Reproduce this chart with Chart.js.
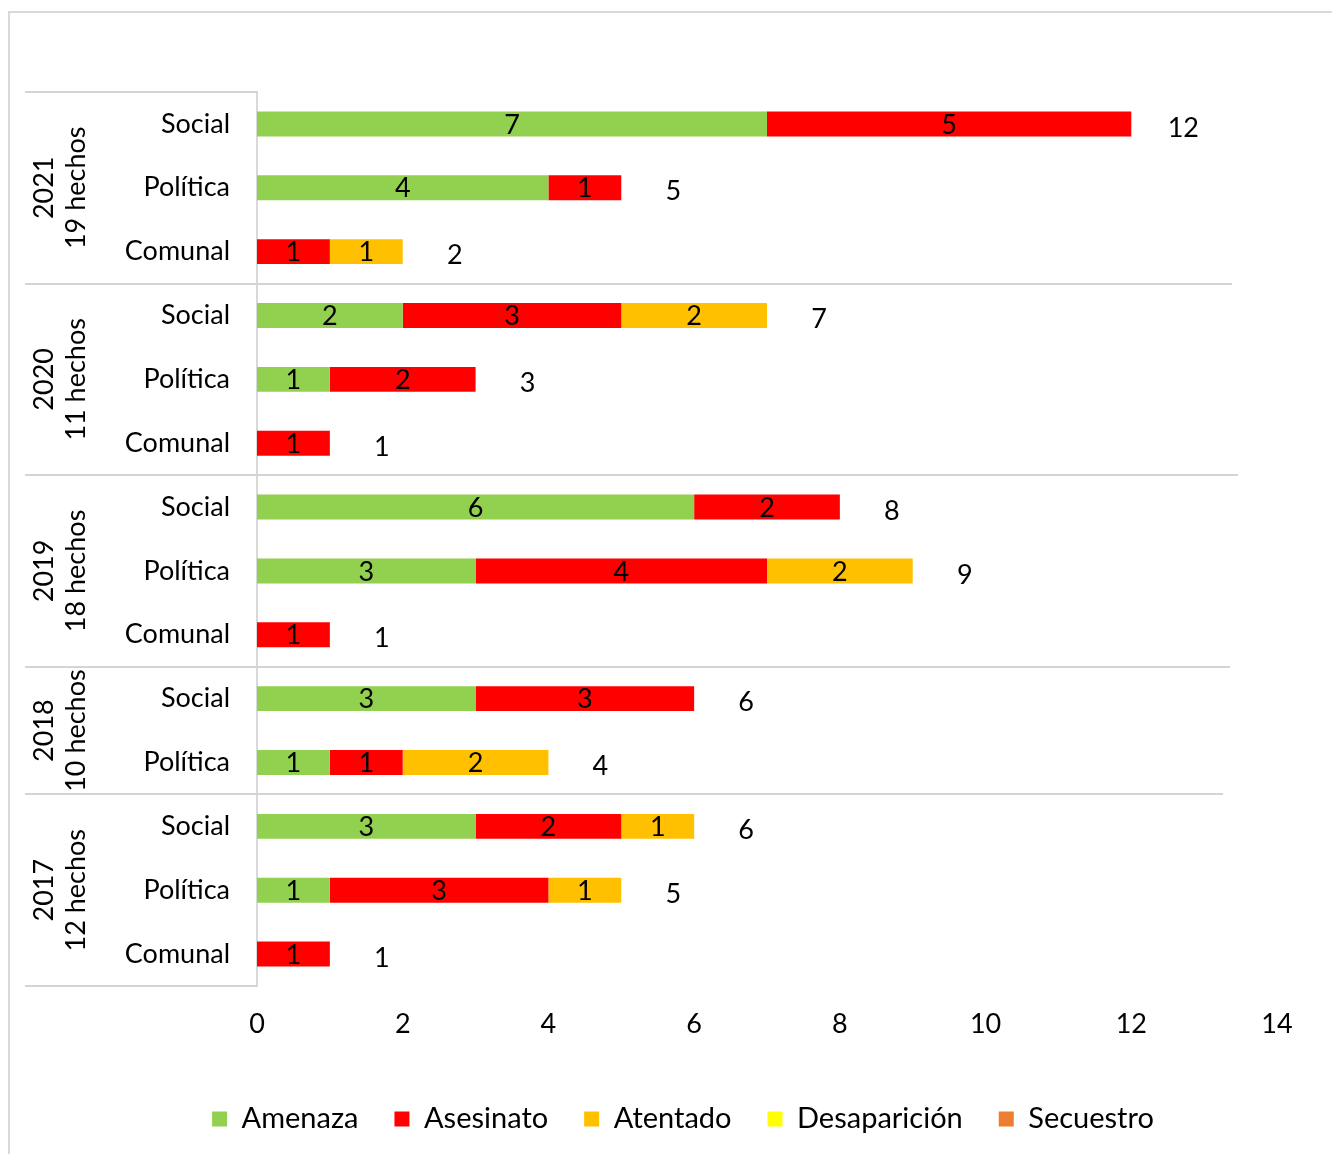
<!DOCTYPE html>
<html>
<head>
<meta charset="utf-8">
<title>Hechos por año y tipo de liderazgo</title>
<script src="https://cdn.jsdelivr.net/npm/chart.js@4/dist/chart.umd.min.js"></script>
<style>
  html, body { margin: 0; padding: 0; background: #fff; }
  canvas { display: block; }
</style>
</head>
<body>
<canvas id="chart" width="1332" height="1154"></canvas>
<script>
// Rows, top to bottom: year group + type of leadership
const rowYears = ['2021', '2021', '2021', '2020', '2020', '2020', '2019', '2019', '2019', '2018', '2018', '2017', '2017', '2017'];
const categories = ['Social', 'Política', 'Comunal', 'Social', 'Política', 'Comunal', 'Social', 'Política', 'Comunal', 'Social', 'Política', 'Social', 'Política', 'Comunal'];

// Number of events per type of aggression
const amenaza      = [7, 4, 0, 2, 1, 0, 6, 3, 0, 3, 1, 3, 1, 0];
const asesinato    = [5, 1, 1, 3, 2, 1, 2, 4, 1, 3, 1, 2, 3, 1];
const atentado     = [0, 0, 1, 2, 0, 0, 0, 2, 0, 0, 2, 1, 1, 0];
const desaparicion = [0, 0, 0, 0, 0, 0, 0, 0, 0, 0, 0, 0, 0, 0];
const secuestro    = [0, 0, 0, 0, 0, 0, 0, 0, 0, 0, 0, 0, 0, 0];

const seriesNames = ['Amenaza', 'Asesinato', 'Atentado', 'Desaparición', 'Secuestro'];
const xTickValues = [0, 2, 4, 6, 8, 10, 12, 14];

const FONT = 'Lato, "Open Sans", sans-serif';
const FONT_SIZE = 27;
const colors = ['#92D050', '#FF0000', '#FFC000', '#FFFF00', '#ED7D31'];
const lineColor = '#d4d4d4';
// right ends of the year separators inside the plot (top to bottom)
const separatorEnds = [1232, 1238, 1230, 1223];
const groupBoxLeft = 25;

const seriesValues = [amenaza, asesinato, atentado, desaparicion, secuestro];
const totals = categories.map((_, i) => seriesValues.reduce((s, arr) => s + arr[i], 0));

// Outer frame of the chart
const framePlugin = {
  id: 'frame',
  beforeDraw(chart) {
    const ctx = chart.ctx;
    ctx.save();
    ctx.fillStyle = '#fff';
    ctx.fillRect(0, 0, chart.width, chart.height);
    ctx.strokeStyle = '#d9d9d9';
    ctx.lineWidth = 2;
    ctx.strokeRect(9, 12, chart.width + 20, chart.height + 20);
    ctx.restore();
  }
};

// Year group labels and separators on the category axis
const groupsPlugin = {
  id: 'groups',
  afterDraw(chart) {
    const ctx = chart.ctx;
    const y = chart.scales.y;
    const area = chart.chartArea;
    const half = (y.getPixelForValue(1) - y.getPixelForValue(0)) / 2;
    ctx.save();
    ctx.strokeStyle = lineColor;
    ctx.lineWidth = 2;
    // top and bottom of the label box
    ctx.beginPath();
    ctx.moveTo(groupBoxLeft, area.top);
    ctx.lineTo(area.left, area.top);
    ctx.moveTo(groupBoxLeft, area.bottom);
    ctx.lineTo(area.left, area.bottom);
    ctx.stroke();

    const years = [...new Set(rowYears)];
    let sep = 0;
    years.forEach((yr) => {
      const first = rowYears.indexOf(yr);
      const last = rowYears.lastIndexOf(yr);
      const cy = (y.getPixelForValue(first) + y.getPixelForValue(last)) / 2;
      let count = 0;
      for (let i = first; i <= last; i++) count += totals[i];
      ctx.fillStyle = '#000';
      ctx.font = `${FONT_SIZE}px ${FONT}`;
      ctx.textAlign = 'center';
      ctx.textBaseline = 'middle';
      ctx.save();
      ctx.translate(groupBoxLeft + 19, cy);
      ctx.rotate(-Math.PI / 2);
      ctx.fillText(yr, 0, 0);
      ctx.restore();
      ctx.save();
      ctx.translate(groupBoxLeft + 51, cy);
      ctx.rotate(-Math.PI / 2);
      ctx.fillText(count + ' hechos', 0, 0);
      ctx.restore();
      if (last < rowYears.length - 1) {
        const ly = Math.round(y.getPixelForValue(last) + half);
        ctx.beginPath();
        ctx.moveTo(groupBoxLeft, ly);
        ctx.lineTo(separatorEnds[sep], ly);
        ctx.stroke();
        sep++;
      }
    });
    ctx.restore();
  }
};

// Segment values inside the bars and totals beyond each bar
const valueLabelsPlugin = {
  id: 'valueLabels',
  afterDatasetsDraw(chart) {
    const ctx = chart.ctx;
    ctx.save();
    ctx.font = `${FONT_SIZE}px ${FONT}`;
    ctx.fillStyle = '#000';
    ctx.textAlign = 'center';
    ctx.textBaseline = 'middle';
    chart.data.datasets.forEach((ds, di) => {
      const meta = chart.getDatasetMeta(di);
      meta.data.forEach((bar, i) => {
        const v = ds.data[i];
        if (!v) return;
        ctx.fillText(String(v), (bar.x + bar.base) / 2, bar.y + 1);
      });
    });
    const xs = chart.scales.x, ys = chart.scales.y;
    totals.forEach((t, i) => {
      ctx.fillText(String(t), xs.getPixelForValue(t) + 52, ys.getPixelForValue(i) + 4);
    });
    ctx.restore();
  }
};

new Chart(document.getElementById('chart'), {
  type: 'bar',
  data: {
    labels: categories,
    datasets: seriesNames.map((name, k) => ({
      label: name,
      data: seriesValues[k],
      backgroundColor: colors[k],
      borderWidth: 0,
      barPercentage: 0.39,
      categoryPercentage: 1.0
    }))
  },
  options: {
    indexAxis: 'y',
    responsive: false,
    animation: false,
    layout: { padding: { top: 92, right: 55, left: 89, bottom: 10.5 } },
    scales: {
      x: {
        stacked: true,
        min: 0,
        max: 14,
        afterBuildTicks(scale) { scale.ticks = xTickValues.map(v => ({ value: v })); },
        afterFit(scale) { scale.height = 82.5; },
        grid: { display: false },
        border: { display: false },
        ticks: { color: '#000', padding: 14, font: { family: FONT, size: FONT_SIZE } }
      },
      y: {
        stacked: true,
        afterFit(scale) { scale.width = 168; },
        grid: { display: false },
        border: { display: true, color: '#d9d9d9', width: 2 },
        ticks: { color: '#000', padding: 19, font: { family: FONT, size: FONT_SIZE } }
      }
    },
    plugins: {
      tooltip: { enabled: false },
      legend: {
        position: 'bottom',
        labels: {
          color: '#000',
          boxWidth: 15,
          boxHeight: 15,
          padding: 36,
          font: { family: FONT, size: 29 }
        }
      }
    }
  },
  plugins: [framePlugin, groupsPlugin, valueLabelsPlugin]
});
</script>
</body>
</html>
